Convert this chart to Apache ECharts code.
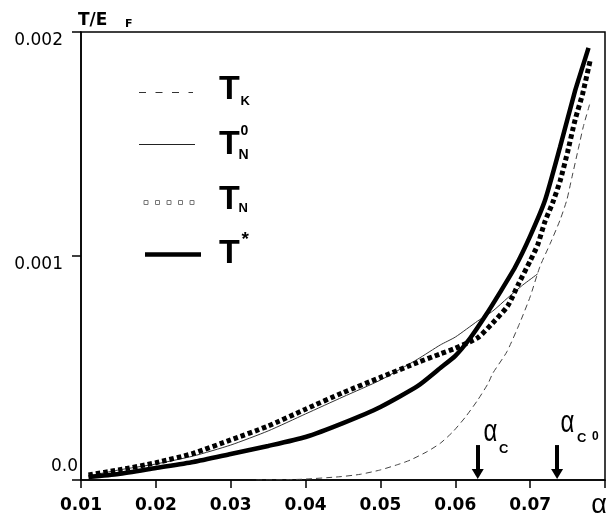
<!DOCTYPE html>
<html><head><meta charset="utf-8">
<script src="https://cdn.jsdelivr.net/npm/echarts@6/dist/echarts.min.js"></script>
<style>html,body{margin:0;padding:0;background:#fff}#c{width:610px;height:524px}</style>
</head><body><div id="c"></div>
<script>
// ---- data ----
const alphaTK  = [0.0334, 0.0393, 0.0446, 0.0473, 0.050, 0.0526, 0.054, 0.0562, 0.058, 0.0597, 0.0614, 0.063, 0.0644, 0.065, 0.0669, 0.0686, 0.070, 0.0713, 0.0727, 0.074, 0.0749, 0.0756, 0.0764, 0.0771, 0.078];
const valuesTK = [0, 0.000003, 0.0000147, 0.0000254, 0.000045, 0.000072, 0.0000893, 0.000126, 0.000164, 0.000216, 0.000283, 0.000357, 0.000432, 0.000476, 0.000573, 0.0007, 0.000818, 0.000952, 0.001057, 0.001161, 0.00125, 0.001354, 0.001473, 0.001577, 0.001683];

const alphaTN0  = [0.011, 0.015, 0.020, 0.025, 0.030, 0.035, 0.040, 0.045, 0.050, 0.055, 0.058, 0.060, 0.063, 0.065, 0.067, 0.069, 0.071];
const valuesTN0 = [0.0000179, 0.0000446, 0.0000714, 0.000107, 0.000156, 0.000219, 0.000295, 0.000371, 0.000446, 0.00054, 0.000603, 0.000638, 0.00071, 0.000754, 0.000813, 0.00087, 0.00092];

const alphaTN  = [0.011, 0.015, 0.020, 0.025, 0.030, 0.035, 0.040, 0.045, 0.050, 0.055, 0.058, 0.060, 0.063, 0.065, 0.067, 0.0685, 0.070, 0.071, 0.072, 0.073, 0.074, 0.075, 0.076, 0.077, 0.078];
const valuesTN = [0.0000223, 0.0000446, 0.0000772, 0.000119, 0.000179, 0.000241, 0.000316, 0.00039, 0.000458, 0.000525, 0.000563, 0.000588, 0.000635, 0.000701, 0.000777, 0.000879, 0.000978, 0.001049, 0.001156, 0.001237, 0.001335, 0.001464, 0.001607, 0.001723, 0.00187];

const alphaTstar  = [0.011, 0.015, 0.020, 0.025, 0.030, 0.035, 0.040, 0.045, 0.050, 0.055, 0.058, 0.060, 0.062, 0.064, 0.066, 0.068, 0.070, 0.072, 0.074, 0.076, 0.077, 0.0778];
const valuesTstar = [0.0000134, 0.0000268, 0.0000536, 0.0000804, 0.000116, 0.000152, 0.000192, 0.000254, 0.000326, 0.00042, 0.0005, 0.000554, 0.000634, 0.000732, 0.000839, 0.000951, 0.001089, 0.00125, 0.001487, 0.001737, 0.001844, 0.001929];

const xTicks = [0.01, 0.02, 0.03, 0.04, 0.05, 0.06, 0.07, 0.08];
const xTickLabels = ['0.01', '0.02', '0.03', '0.04', '0.05', '0.06', '0.07', 'α'];
const yTicks = [0, 0.001, 0.002];
const yTickLabels = ['0.0', '0.001', '0.002'];

const arrowAlphas = [0.063, 0.0736];
const arrowTop = 0.000156;
const arrowEnd = 0.000027;

// ---- helpers ----
function pair(xs, ys) { return xs.map((x, i) => [x, ys[i]]); }
function lab(ticks, labels, v) {
  const i = ticks.findIndex(t => Math.abs(t - v) < 1e-9);
  return i < 0 ? '' : labels[i];
}
const SANS = 'DejaVu Sans';
const LEG = 'Liberation Sans';

const chart = echarts.init(document.getElementById('c'), null, {renderer: 'canvas'});

function txt(x, y, s, size, weight, family, extra) {
  return Object.assign({
    type: 'text', x: x, y: y, silent: true,
    style: {text: s, fontSize: size, fontWeight: weight, fontFamily: family, fill: '#000',
            align: 'left', verticalAlign: 'middle'}
  }, extra || {});
}
function alphaGlyph(cx, cy) {
  return {type: 'text', x: cx, y: cy, scaleY: 1.3, silent: true,
    style: {text: 'α', fontSize: 24, fontFamily: LEG, fontWeight: 'normal', fill: '#000',
            align: 'center', verticalAlign: 'middle'}};
}

const graphics = [
  // axis title
  txt(78, 21, 'T/E', 17, 'bold', SANS),
  txt(125, 24.5, 'F', 11, 'bold', SANS),
  // legend 1: T_K dashed
  {type: 'line', silent: true, shape: {x1: 139, y1: 92.5, x2: 193, y2: 92.5},
   style: {stroke: '#333', lineWidth: 1, lineDash: [7, 9.5]}},
  txt(219, 90, 'T', 34, 'bold', LEG),
  txt(240.5, 101.5, 'K', 13, 'bold', LEG),
  // legend 2: T_N^0 thin
  {type: 'line', silent: true, shape: {x1: 139, y1: 144.5, x2: 195, y2: 144.5},
   style: {stroke: '#222', lineWidth: 1}},
  txt(219, 144.5, 'T', 34, 'bold', LEG),
  txt(240.5, 131.5, '0', 14, 'bold', LEG),
  txt(238.5, 155, 'N', 14, 'bold', LEG),
  // legend 3: T_N small squares
  ...[146, 157.5, 169, 180.5, 192].map(cx => ({type: 'rect', silent: true,
     shape: {x: cx - 2, y: 200.5, width: 4, height: 4},
     style: {fill: '#fff', stroke: '#777', lineWidth: 1}})),
  txt(219, 200, 'T', 34, 'bold', LEG),
  txt(238.5, 208, 'N', 13, 'bold', LEG),
  // legend 4: T* thick
  {type: 'line', silent: true, shape: {x1: 145, y1: 254.5, x2: 201, y2: 254.5},
   style: {stroke: '#000', lineWidth: 4.3}},
  txt(219, 254, 'T', 34, 'bold', LEG),
  txt(241.5, 240, '*', 19, 'bold', LEG),
  // alpha_c annotations
  alphaGlyph(490.5, 432.3),
  txt(499, 449.5, 'C', 13, 'bold', LEG),
  alphaGlyph(567.5, 423.8),
  txt(577, 438.5, 'C', 13, 'bold', LEG),
  txt(592, 437, '0', 12, 'bold', LEG)
];

const option = {
  animation: false,
  backgroundColor: '#fff',
  grid: {left: 81, right: 5, top: 32, bottom: 44, show: true, borderColor: '#000', borderWidth: 1.5,
         backgroundColor: 'transparent', containLabel: false, outerBoundsMode: 'none'},
  xAxis: {
    type: 'value', min: 0.01, max: 0.08, interval: 0.01,
    splitLine: {show: false},
    axisLine: {show: true, onZero: false, lineStyle: {color: '#000', width: 1.5}},
    axisTick: {show: true, inside: false, length: 8, lineStyle: {color: '#000', width: 1.5}},
    axisLabel: {
      show: true, margin: 17, color: '#000', fontFamily: SANS, fontWeight: 'bold', fontSize: 17,
      showMinLabel: true, showMaxLabel: true,
      formatter: function (v) {
        const s = lab(xTicks, xTickLabels, v);
        return s === 'α' ? '{a|α}' : s;
      },
      rich: {a: {fontFamily: LEG, fontWeight: 'normal', fontSize: 27, lineHeight: 17, color: '#000', padding: [0, 12, 0, 0]}}
    }
  },
  yAxis: [{
    type: 'value', min: 0, max: 0.002, interval: 0.001,
    splitLine: {show: false},
    axisLine: {show: true, onZero: false, lineStyle: {color: '#000', width: 1.5}},
    axisTick: {show: true, inside: false, length: 9, lineStyle: {color: '#000', width: 1.5}},
    axisLabel: {
      show: true, margin: 18, color: '#000', fontFamily: SANS, fontSize: 17, verticalAlign: 'top',
      showMinLabel: true, showMaxLabel: true,
      formatter: function (v) { return v === 0 ? '' : lab(yTicks, yTickLabels, v); }
    }
  }, {
    type: 'value', min: 0, max: 0.002, interval: 0.001, position: 'left',
    splitLine: {show: false}, axisLine: {show: false}, axisTick: {show: false},
    axisLabel: {
      show: true, margin: 3, color: '#000', fontFamily: SANS, fontSize: 17, verticalAlign: 'bottom',
      padding: [0, 0, 5, 0], showMinLabel: true,
      formatter: function (v) { return v === 0 ? lab(yTicks, yTickLabels, v) : ''; }
    }
  }],
  series: [
    {name: 'T_K', type: 'line', data: pair(alphaTK, valuesTK), showSymbol: false, smooth: 0.2,
     lineStyle: {color: '#444', width: 1, type: [6, 4]}, z: 2},
    {name: 'T_N0', type: 'line', data: pair(alphaTN0, valuesTN0), showSymbol: false, smooth: 0.2,
     lineStyle: {color: '#333', width: 1}, z: 3},
    {name: 'T_N', type: 'line', data: pair(alphaTN, valuesTN), showSymbol: false, smooth: 0.2,
     lineStyle: {color: '#000', width: 5, type: [4.5, 3], cap: 'butt'}, z: 4},
    {name: 'T*', type: 'line', data: pair(alphaTstar, valuesTstar), showSymbol: false, smooth: 0.2,
     lineStyle: {color: '#000', width: 4.5}, z: 5,
     markLine: {
       silent: true, animation: false, symbol: ['none', 'triangle'], symbolSize: [12, 10],
       label: {show: false},
       lineStyle: {color: '#000', width: 4, type: 'solid'},
       emphasis: {disabled: true},
       data: arrowAlphas.map(a => [{coord: [a, arrowTop]}, {coord: [a, arrowEnd]}])
     }}
  ],
  graphic: graphics
};
chart.setOption(option);
</script>
</body></html>
